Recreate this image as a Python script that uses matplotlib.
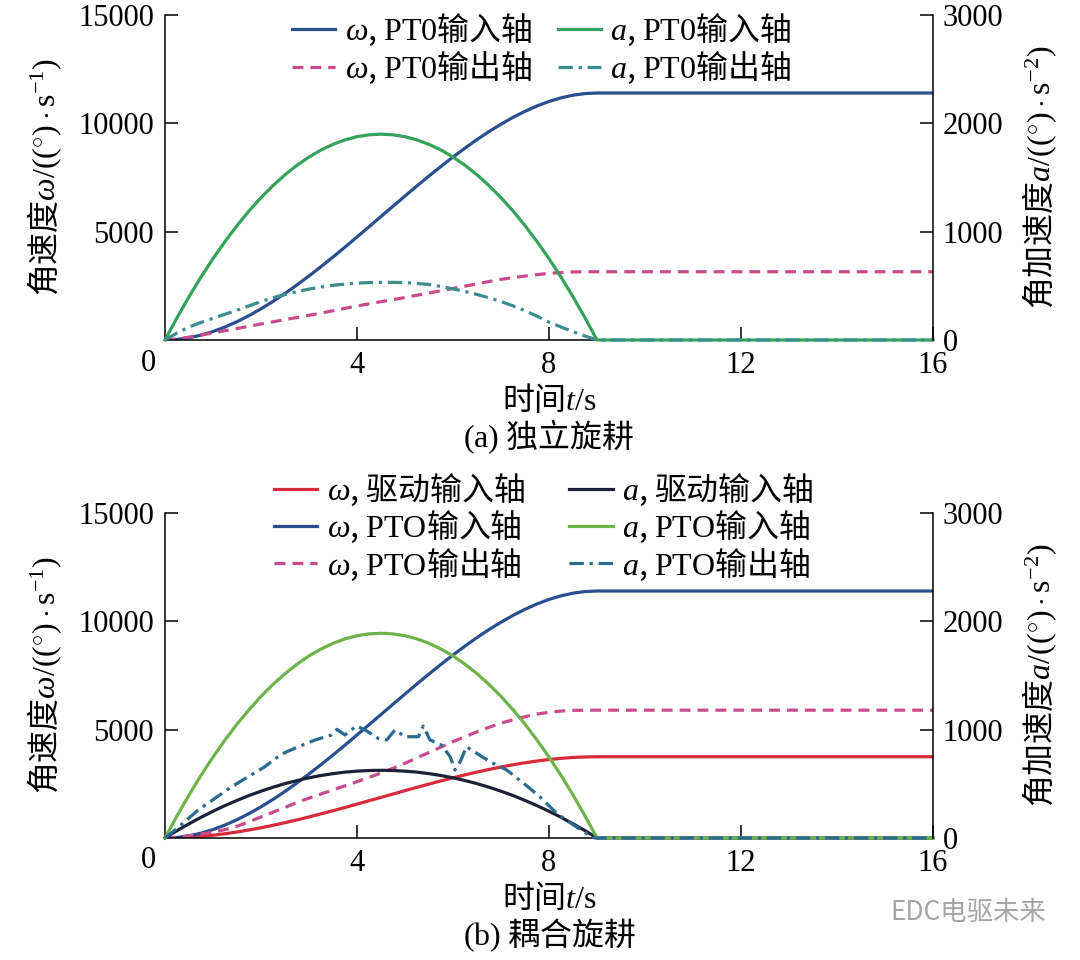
import matplotlib
matplotlib.use('Agg')
import matplotlib.pyplot as plt
from matplotlib.font_manager import FontProperties

plt.rcParams['font.family'] = ['Liberation Serif', 'Noto Sans CJK SC', 'DejaVu Sans']
plt.rcParams['mathtext.fontset'] = 'custom'
plt.rcParams['mathtext.rm'] = 'Liberation Serif'
plt.rcParams['mathtext.it'] = 'Liberation Serif:italic'
plt.rcParams['mathtext.bf'] = 'Liberation Serif:bold'

# ---------------- data ----------------
t = [0, 0.25, 0.5, 0.75, 1.0, 1.25, 1.5, 1.75, 2.0, 2.25, 2.5, 2.75, 3.0,
     3.25, 3.5, 3.75, 4.0, 4.25, 4.5, 4.75, 5.0, 5.25, 5.5, 5.75, 6.0,
     6.25, 6.5, 6.75, 7.0, 7.25, 7.5, 7.75, 8.0, 8.25, 8.5, 8.75, 9.0, 16.0]

# (a) independent rotary tillage
w_pto_in_a = [0, 26, 100, 224, 390, 599, 845, 1126, 1440, 1781, 2150, 2543, 2955,
              3386, 3830, 4288, 4755, 5226, 5700, 6175, 6645, 7112, 7570, 8014, 8445,
              8858, 9250, 9619, 9960, 10275, 10555, 10802, 11010, 11176, 11300, 11374, 11400, 11400]
w_pto_out_a = [0, 50, 130, 225, 330, 430, 530, 635, 740, 840, 940, 1040, 1140,
               1245, 1350, 1460, 1570, 1670, 1770, 1865, 1960, 2065, 2170, 2275, 2380,
               2485, 2590, 2700, 2800, 2880, 2950, 3020, 3075, 3115, 3140, 3150, 3150, 3150]
a_pto_in_a = [0, 205, 399, 581, 751, 909, 1056, 1191, 1314, 1425, 1525, 1613, 1689,
              1754, 1806, 1847, 1877, 1894, 1900, 1894, 1877, 1847, 1806, 1754, 1689,
              1613, 1525, 1425, 1314, 1191, 1056, 909, 751, 581, 399, 205, 0, 0]
a_pto_out_a = [0, 65, 120, 162, 200, 238, 275, 315, 355, 390, 420, 447, 470,
               489, 505, 516, 525, 530, 532, 532, 530, 522, 512, 494, 472,
               448, 420, 390, 355, 315, 270, 220, 165, 120, 77, 37, 0, 0]

# (b) coupled rotary tillage
w_drive_in_b = [0, 9, 33, 74, 129, 197, 278, 370, 473, 586, 707, 836, 972,
                1114, 1260, 1410, 1564, 1719, 1875, 2031, 2186, 2339, 2490, 2636, 2778,
                2913, 3043, 3164, 3277, 3380, 3472, 3553, 3622, 3676, 3717, 3741, 3750, 3750]
w_pto_in_b = [0, 26, 100, 224, 390, 599, 845, 1126, 1440, 1781, 2150, 2543, 2955,
              3386, 3830, 4288, 4755, 5226, 5700, 6175, 6645, 7112, 7570, 8014, 8445,
              8858, 9250, 9619, 9960, 10275, 10555, 10802, 11010, 11176, 11300, 11374, 11400, 11400]
w_pto_out_b = [0, 35, 100, 180, 270, 385, 540, 750, 970, 1190, 1410, 1640, 1840,
               2030, 2220, 2410, 2600, 2800, 3000, 3220, 3450, 3700, 3950, 4200, 4450,
               4680, 4900, 5110, 5300, 5460, 5600, 5720, 5800, 5860, 5890, 5900, 5900, 5900]
a_drive_in_b = [0, 68, 131, 191, 247, 299, 347, 392, 432, 469, 502, 530, 556,
                577, 594, 608, 617, 623, 625, 623, 617, 608, 594, 577, 556,
                530, 502, 469, 432, 392, 347, 299, 247, 191, 131, 68, 0, 0]
a_pto_in_b = [0, 204, 397, 578, 747, 904, 1051, 1184, 1307, 1418, 1517, 1604, 1681,
              1744, 1797, 1838, 1867, 1884, 1890, 1884, 1867, 1838, 1797, 1744, 1681,
              1604, 1517, 1418, 1307, 1184, 1051, 904, 747, 578, 397, 204, 0, 0]
t_noisy = [0, 0.21, 0.69, 1.39, 2.08, 2.43, 2.78, 3.13, 3.47, 3.58, 3.75, 3.99,
           4.17, 4.44, 4.62, 4.79, 5.0, 5.28, 5.38, 5.52, 5.76, 5.94, 6.04, 6.15,
           6.28, 6.77, 7.12, 7.47, 7.81, 8.16, 8.51, 8.78, 8.95, 16.0]
a_pto_out_b = [0, 74, 258, 474, 658, 775, 843, 905, 951, 1003, 951, 1034,
               997, 920, 905, 997, 935, 935, 1034, 905, 858, 751, 628, 704,
               843, 704, 628, 505, 381, 228, 120, 43, 0, 0]

x_ticks = [4, 8, 12, 16]
w_ticks = [5000, 10000, 15000]
a_ticks = [0, 1000, 2000, 3000]

# ---------------- style ----------------
C_BLUE = '#2a4e8e'
C_GREEN_A = '#35a25c'
C_GREEN_B = '#6db34a'
C_PINK = '#c94c8a'
C_TEAL_A = '#3d8c8e'
C_TEAL_B = '#2b6a90'
C_RED = '#d62b3b'
C_BLACK = '#1c2138'
LW = 2.3
DASH = (0, (3.4, 2.2))
DASHDOT = (0, (4.5, 1.8, 1.0, 1.8))

TICK_FS = 22
LEG_FS = 23
cjk = ['Noto Sans CJK SC', 'DejaVu Sans']

fig = plt.figure(figsize=(10.8, 9.6), dpi=100)


def px(x, y):
    return x / 1080.0, 1 - y / 960.0


def make_panel(top, bottom):
    l, b = px(165, bottom)
    r, tp = px(933, top)
    ax = fig.add_axes([l, b, r - l, tp - b])
    ax2 = ax.twinx()
    ax.set_xlim(0, 16)
    ax.set_ylim(0, 15000)
    ax2.set_ylim(0, 3000)
    ax.spines['top'].set_visible(False)
    ax.spines['right'].set_visible(False)
    for s in ['top', 'left', 'bottom']:
        ax2.spines[s].set_visible(False)
    for a in (ax, ax2):
        for s in a.spines.values():
            s.set_linewidth(1.1)
    ax.set_xticks(x_ticks)
    ax.set_xticklabels([str(v) for v in x_ticks])
    ax.set_yticks(w_ticks)
    ax.set_yticklabels([str(v) for v in w_ticks])
    ax2.set_yticks(a_ticks)
    ax2.set_yticklabels([str(v) for v in a_ticks])
    ax.tick_params(direction='in', length=9.4, width=1.1, labelsize=TICK_FS, pad=8)
    ax2.tick_params(direction='in', length=9.4, width=1.1, labelsize=TICK_FS, pad=7)
    ax.annotate('0', xy=(0, 0), xycoords='data', xytext=(-17, -23),
                textcoords='offset pixels', ha='center', va='center',
                fontsize=TICK_FS, family='Liberation Serif')
    ax.patch.set_visible(False)
    return ax, ax2


def panel_texts(axis_y, cap):
    fig.text(*px(549, axis_y + 60), '时间$t/\\mathrm{s}$', family=cjk,
             fontsize=LEG_FS, ha='center', va='center')
    fig.text(*px(549, axis_y + 97), cap, family=cjk,
             fontsize=LEG_FS, ha='center', va='center')
    cy = axis_y - 163
    fig.text(*px(45, cy), '角速度$\\omega/((^{\\circ})\\cdot\\mathrm{s}^{-1})$',
             family=cjk, fontsize=LEG_FS, ha='center', va='center', rotation=90)
    fig.text(*px(1040, cy), '角加速度$a/((^{\\circ})\\cdot\\mathrm{s}^{-2})$',
             family=cjk, fontsize=LEG_FS, ha='center', va='center', rotation=90)


def legend(axis, handles, anchor, colsp):
    return axis.legend(handles=handles, ncol=2, frameon=False,
                       prop=FontProperties(family=cjk, size=LEG_FS),
                       loc='upper left', bbox_to_anchor=px(*anchor),
                       bbox_transform=fig.transFigure, borderpad=0, borderaxespad=0,
                       handlelength=1.35, handletextpad=0.3, columnspacing=colsp,
                       labelspacing=0.02)


# ---------------- panel (a) ----------------
ax, ax2 = make_panel(15, 340)
h1, = ax.plot(t, w_pto_in_a, color=C_BLUE, lw=LW, label='$\\omega$, $\\mathrm{PT0}$输入轴')
h2, = ax.plot(t, w_pto_out_a, color=C_PINK, lw=LW, ls=DASH, label='$\\omega$, $\\mathrm{PT0}$输出轴')
h3, = ax2.plot(t, a_pto_in_a, color=C_GREEN_A, lw=LW, clip_on=False, label='$a$, $\\mathrm{PT0}$输入轴')
h4, = ax2.plot(t, a_pto_out_a, color=C_TEAL_A, lw=LW, ls=DASHDOT, clip_on=False, label='$a$, $\\mathrm{PT0}$输出轴')
legend(ax2, [h1, h2, h3, h4], (292, 12), 0.8)
panel_texts(340, '$\\mathrm{(a)}$ 独立旋耕')

# ---------------- panel (b) ----------------
bx, bx2 = make_panel(513, 838)
g1, = bx.plot(t, w_drive_in_b, color=C_RED, lw=LW, label='$\\omega$, 驱动输入轴')
g2, = bx.plot(t, w_pto_in_b, color=C_BLUE, lw=LW, label='$\\omega$, $\\mathrm{PTO}$输入轴')
g3, = bx.plot(t, w_pto_out_b, color=C_PINK, lw=LW, ls=DASH, label='$\\omega$, $\\mathrm{PTO}$输出轴')
g4, = bx2.plot(t, a_drive_in_b, color=C_BLACK, lw=LW, clip_on=False, label='$a$, 驱动输入轴')
g5, = bx2.plot(t, a_pto_in_b, color=C_GREEN_B, lw=LW, clip_on=False, label='$a$, $\\mathrm{PTO}$输入轴')
g6, = bx2.plot(t_noisy, a_pto_out_b, color=C_TEAL_B, lw=LW, ls=DASHDOT, clip_on=False, label='$a$, $\\mathrm{PTO}$输出轴')
legend(bx2, [g1, g2, g3, g4, g5, g6], (274, 472), 1.4)
panel_texts(838, '$\\mathrm{(b)}$ 耦合旋耕')

# watermark
fig.text(*px(890, 912), 'EDC电驱未来', family=cjk, fontsize=19,
         color='#a5a5a5', ha='left', va='center')

fig.savefig('out.png', dpi=100)
